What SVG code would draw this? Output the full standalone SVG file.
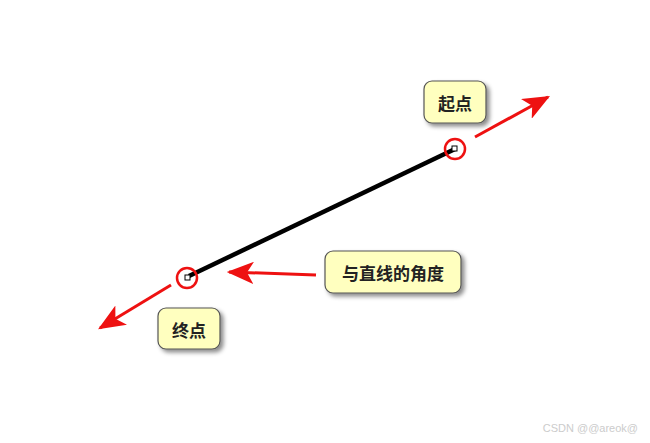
<svg xmlns="http://www.w3.org/2000/svg" width="650" height="443" viewBox="0 0 650 443">
<style>
.box{fill:#FFFFBF;stroke:#555;stroke-width:1.2;filter:url(#sh)}
.lbl{font-family:"Noto Sans CJK SC","Noto Sans",sans-serif;font-size:17px;font-weight:bold;fill:#222;text-anchor:middle;dominant-baseline:central}
.arr{stroke:#EE1111;stroke-width:3;fill:none;marker-end:url(#ah)}
.ring{fill:none;stroke:#EE1111;stroke-width:2.5}
</style>
<defs>
<filter id="sh" x="-20%" y="-20%" width="150%" height="160%">
<feDropShadow dx="3" dy="3" stdDeviation="2" flood-color="#000" flood-opacity="0.45"/>
</filter>
<marker id="ah" viewBox="0 0 12 10" refX="11" refY="5" markerWidth="9" markerHeight="7.5" orient="auto" markerUnits="strokeWidth">
<path d="M0,0 L12,5 L0,10 L3,5 Z" fill="#EE1111"/>
</marker>
</defs>
<rect width="650" height="443" fill="#fff"/>
<g id="connectors">
<line x1="189" y1="276" x2="455" y2="149" stroke="#000" stroke-width="4.5"/>
<rect x="452" y="146" width="5" height="5" fill="#fff" stroke="#000" stroke-width="1"/>
<rect x="185" y="275" width="5" height="5" fill="#fff" stroke="#000" stroke-width="1"/>
<circle class="ring" cx="455" cy="149" r="10"/>
<circle class="ring" cx="187" cy="278" r="10"/>
<line class="arr" x1="475" y1="137" x2="548" y2="97"/>
<line class="arr" x1="171" y1="285" x2="100" y2="328"/>
<line class="arr" x1="316" y1="275" x2="229" y2="272"/>
</g>
<g id="start">
<rect class="box" x="424" y="81" width="62" height="42" rx="8"/>
<text class="lbl" x="455" y="102">起点</text>
</g>
<g id="angle">
<rect class="box" x="325" y="251" width="136" height="42" rx="8"/>
<text class="lbl" x="393" y="272">与直线的角度</text>
</g>
<g id="end">
<rect class="box" x="158" y="308" width="62" height="41" rx="8"/>
<text class="lbl" x="189" y="329">终点</text>
</g>
<text x="638" y="432" font-family="Liberation Sans,sans-serif" font-size="11" fill="#ccc" text-anchor="end">CSDN @@areok@</text>
</svg>
